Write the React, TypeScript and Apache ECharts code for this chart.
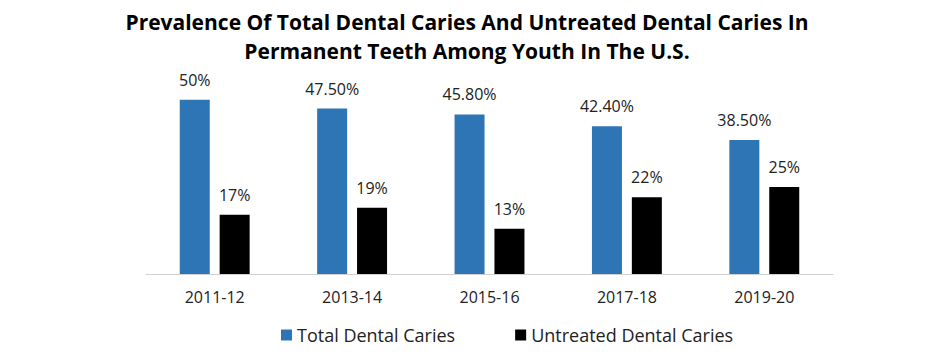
import React, { useEffect, useRef } from "react";
import * as echarts from "echarts";

const categories = ["2011-12", "2013-14", "2015-16", "2017-18", "2019-20"];
const totalCaries = [50, 47.5, 45.8, 42.4, 38.5];
const totalLabels = ["50%", "47.50%", "45.80%", "42.40%", "38.50%"];
const untreatedCaries = [17, 19, 13, 22, 25];
const untreatedLabels = ["17%", "19%", "13%", "22%", "25%"];
const titleText =
  "Prevalence Of Total Dental Caries And Untreated Dental Caries In\nPermanent Teeth Among Youth In The U.S.";

const FONT = "'Open Sans', sans-serif";

export default function App() {
  const ref = useRef<HTMLDivElement>(null);
  useEffect(() => {
    if (!ref.current) return;
    const chart = echarts.init(ref.current, null, { renderer: "svg" });
    chart.setOption({
      animation: false,
      title: {
        text: titleText,
        left: "center",
        top: 2,
        textStyle: {
          fontFamily: FONT,
          fontWeight: "bold",
          fontSize: 21,
          lineHeight: 29,
          color: "#000",
        },
      },
      legend: {
        bottom: 10,
        left: 281,
        padding: 0,
        itemWidth: 11,
        itemHeight: 11,
        itemGap: 60,
        icon: "rect",
        textStyle: { fontFamily: FONT, fontSize: 18, color: "#222" },
        data: ["Total Dental Caries", "Untreated Dental Caries"],
      },
      grid: { left: 146, right: 101, top: 65, bottom: 80 },
      xAxis: {
        type: "category",
        data: categories,
        axisLine: { lineStyle: { color: "#d0d0d0", width: 1 } },
        axisTick: { show: false },
        axisLabel: {
          fontFamily: FONT,
          fontSize: 16,
          color: "#222",
          margin: 15,
        },
      },
      yAxis: {
        type: "value",
        min: 0,
        max: 60,
        show: false,
        splitLine: { show: false },
      },
      series: [
        {
          name: "Total Dental Caries",
          type: "bar",
          data: totalCaries,
          barWidth: 30,
          barGap: "33%",
          itemStyle: { color: "#2E75B6" },
          label: {
            show: true,
            position: "top",
            distance: 12,
            fontFamily: FONT,
            fontSize: 16,
            color: "#222",
            formatter: (p: any) => totalLabels[p.dataIndex],
          },
        },
        {
          name: "Untreated Dental Caries",
          type: "bar",
          data: untreatedCaries,
          barWidth: 30,
          itemStyle: { color: "#000000" },
          label: {
            show: true,
            position: "top",
            distance: 12,
            fontFamily: FONT,
            fontSize: 16,
            color: "#222",
            formatter: (p: any) => untreatedLabels[p.dataIndex],
          },
        },
      ],
    });
    return () => chart.dispose();
  }, []);
  return (
    <div
      ref={ref}
      style={{ position: "absolute", left: 0, top: 0, width: 934, height: 354 }}
    />
  );
}
